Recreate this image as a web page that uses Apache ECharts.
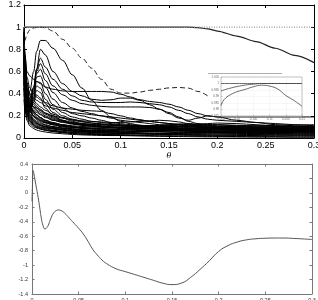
<!DOCTYPE html>
<html><head><meta charset="utf-8">
<script src="https://cdn.jsdelivr.net/npm/echarts@6/dist/echarts.min.js"></script>
<style>html,body{margin:0;padding:0;background:#fff}#c{width:318px;height:300px}</style>
</head><body><div id="c"></div>
<script>
// ---------- top panel: |lambda| vs theta ----------
const X = [0,0.001,0.003,0.006,0.01, 0.013,0.017,0.022,0.03,0.04, 0.05,0.06,0.07,0.08,0.09, 0.1,0.11,0.12,0.13,0.14, 0.15,0.16,0.17,0.18,0.19, 0.2,0.22,0.24,0.26,0.28,0.3];
const unitLine = [1,1,1,1,1, 1,1,1,1,1, 1,1,1,1,1, 1,1,1,1,1, 1,1,1,0.995,0.985, 0.965,0.92,0.87,0.81,0.745,0.68];
const dottedOne = [1,1,1,1,1, 1,1,1,1,1, 1,1,1,1,1, 1,1,1,1,1, 1,1,1,1,1, 1,1,1,1,1,1];
const dashedCurve = [0.8,0.88,0.94,0.975,0.993, 0.998,1.0,0.995,0.965,0.89, 0.81,0.72,0.63,0.53,0.44, 0.405,0.405,0.415,0.43,0.44, 0.452,0.456,0.45,0.42,0.38, null,null,null,null,null,null];
const A1 = [0.95,0.6,0.35,0.42,0.6, 0.78,0.88,0.88,0.81,0.7, 0.57,0.45,0.34,0.25,0.19, 0.15,0.13,0.115,0.105,0.1, 0.095,0.09,0.088,0.085,0.085, 0.082,0.08,0.078,0.075,0.072,0.07];
const A2 = [0.9,0.55,0.33,0.36,0.46, 0.62,0.8,0.75,0.6,0.49, 0.42,0.38,0.35,0.34,0.345, 0.36,0.36,0.34,0.3,0.26, 0.22,0.18,0.16,0.18,0.2, 0.19,0.16,0.14,0.12,0.11,0.1];
const A3 = [0.85,0.5,0.3,0.34,0.45, 0.62,0.72,0.64,0.53,0.44, 0.38,0.34,0.325,0.32,0.32, 0.32,0.325,0.32,0.31,0.3, 0.28,0.25,0.22,0.19,0.17, 0.16,0.15,0.14,0.13,0.12,0.11];
const A4 = [0.8,0.5,0.28,0.32,0.44, 0.6,0.67,0.58,0.47,0.39, 0.34,0.31,0.295,0.285,0.28, 0.28,0.28,0.28,0.275,0.26, 0.23,0.19,0.15,0.13,0.12, 0.12,0.11,0.1,0.095,0.09,0.09];
const A5 = [0.75,0.45,0.27,0.3,0.42, 0.58,0.62,0.52,0.41,0.32, 0.27,0.24,0.22,0.2,0.18, 0.16,0.15,0.14,0.13,0.12, 0.115,0.11,0.11,0.105,0.1, 0.1,0.095,0.09,0.09,0.085,0.085];
const A6 = [0.7,0.42,0.25,0.28,0.4, 0.55,0.56,0.46,0.35,0.27, 0.22,0.2,0.18,0.16,0.14, 0.13,0.12,0.115,0.11,0.105, 0.1,0.1,0.1,0.095,0.09, 0.09,0.085,0.085,0.08,0.08,0.078];
const A7 = [0.65,0.4,0.24,0.27,0.38, 0.51,0.5,0.4,0.3,0.23, 0.19,0.17,0.15,0.14,0.13, 0.12,0.11,0.105,0.1,0.095, 0.09,0.088,0.085,0.082,0.08, 0.078,0.076,0.074,0.072,0.07,0.068];
const A8 = [0.6,0.38,0.23,0.26,0.36, 0.47,0.45,0.35,0.26,0.2, 0.17,0.15,0.135,0.125,0.115, 0.11,0.105,0.1,0.097,0.094, 0.09,0.087,0.085,0.083,0.08, 0.078,0.075,0.073,0.07,0.068,0.066];
const A9 = [0.55,0.35,0.22,0.25,0.34, 0.43,0.41,0.31,0.23,0.18, 0.15,0.13,0.12,0.11,0.1, 0.095,0.09,0.088,0.086,0.084, 0.082,0.08,0.078,0.076,0.075, 0.072,0.07,0.068,0.066,0.065,0.064];
const A10 = [0.5,0.33,0.21,0.24,0.32, 0.39,0.36,0.27,0.2,0.16, 0.13,0.115,0.105,0.1,0.095, 0.09,0.086,0.083,0.08,0.078, 0.076,0.074,0.072,0.07,0.068, 0.066,0.064,0.062,0.06,0.058,0.056];
const B1 = [1.0,0.75,0.6,0.56,0.53, 0.51,0.49,0.46,0.44,0.425, 0.42,0.42,0.42,0.42,0.415, 0.395,0.37,0.345,0.33,0.32, 0.305,0.28,0.25,0.22,0.2, 0.19,0.19,0.19,0.19,0.19,0.19];
const L1 = [0.45,0.3,0.2,0.15,0.12, 0.105,0.095,0.085,0.07,0.06, 0.05,0.045,0.04,0.035,0.03, 0.03,0.028,0.025,0.022,0.02, 0.02,0.018,0.018,0.016,0.015, 0.015,0.013,0.012,0.012,0.01,0.01];
const L2 = [0.6,0.4,0.25,0.18,0.14, 0.125,0.11,0.1,0.085,0.075, 0.065,0.06,0.055,0.05,0.045, 0.042,0.04,0.038,0.035,0.033, 0.03,0.03,0.028,0.027,0.026, 0.025,0.023,0.022,0.02,0.02,0.018];
const L3 = [0.7,0.5,0.32,0.22,0.17, 0.15,0.13,0.115,0.1,0.09, 0.08,0.072,0.066,0.06,0.056, 0.052,0.05,0.047,0.045,0.043, 0.041,0.04,0.038,0.037,0.036, 0.035,0.033,0.031,0.03,0.029,0.028];
const L4 = [0.8,0.55,0.38,0.27,0.2, 0.175,0.15,0.135,0.12,0.105, 0.095,0.085,0.08,0.075,0.07, 0.065,0.062,0.06,0.058,0.056, 0.055,0.054,0.053,0.052,0.05, 0.05,0.048,0.046,0.045,0.044,0.043];
const L5 = [0.9,0.65,0.42,0.3,0.24, 0.21,0.18,0.155,0.13,0.115, 0.1,0.09,0.085,0.08,0.078, 0.075,0.073,0.07,0.068,0.066, 0.065,0.064,0.062,0.06,0.06, 0.058,0.057,0.056,0.055,0.055,0.054];
const L6 = [0.55,0.42,0.3,0.24,0.2, 0.18,0.16,0.14,0.12,0.1, 0.085,0.075,0.07,0.068,0.07, 0.075,0.08,0.083,0.085,0.083, 0.08,0.075,0.07,0.068,0.07, 0.075,0.08,0.085,0.08,0.075,0.07];
const L7 = [0.75,0.5,0.35,0.28,0.23, 0.21,0.185,0.16,0.14,0.12, 0.105,0.095,0.09,0.088,0.09, 0.095,0.1,0.1,0.095,0.09, 0.088,0.09,0.095,0.1,0.098, 0.095,0.09,0.088,0.09,0.092,0.09];
const L8 = [0.85,0.6,0.4,0.32,0.27, 0.245,0.215,0.19,0.16,0.14, 0.125,0.115,0.11,0.105,0.1, 0.098,0.095,0.093,0.09,0.092, 0.095,0.1,0.105,0.11,0.108, 0.105,0.1,0.098,0.1,0.1,0.1];
const L9 = [1.0,0.7,0.45,0.35,0.3, 0.275,0.245,0.215,0.18,0.155, 0.14,0.13,0.125,0.12,0.115, 0.11,0.108,0.105,0.1,0.098, 0.1,0.105,0.11,0.115,0.118, 0.12,0.115,0.11,0.105,0.1,0.095];
const L10 = [0.65,0.45,0.28,0.2,0.16, 0.14,0.12,0.105,0.095,0.085, 0.075,0.068,0.062,0.058,0.055, 0.052,0.055,0.06,0.065,0.068, 0.07,0.068,0.065,0.06,0.058, 0.06,0.065,0.07,0.072,0.07,0.068];
const L11 = [0.5,0.35,0.24,0.17,0.13, 0.115,0.1,0.09,0.08,0.07, 0.06,0.055,0.05,0.048,0.045, 0.043,0.042,0.04,0.04,0.04, 0.042,0.045,0.048,0.05,0.05, 0.048,0.045,0.042,0.04,0.038,0.036];
const L12 = [0.95,0.72,0.5,0.38,0.32, 0.29,0.26,0.225,0.19,0.16, 0.14,0.125,0.115,0.105,0.1, 0.095,0.09,0.088,0.085,0.082, 0.08,0.078,0.078,0.08,0.082, 0.085,0.09,0.095,0.098,0.1,0.1];
const L13 = [0.4,0.28,0.18,0.13,0.1, 0.09,0.08,0.07,0.06,0.05, 0.042,0.036,0.032,0.028,0.025, 0.022,0.02,0.018,0.016,0.015, 0.014,0.013,0.012,0.011,0.01, 0.01,0.009,0.008,0.008,0.007,0.007];
const L14 = [0.88,0.62,0.44,0.34,0.28, 0.255,0.23,0.2,0.17,0.15, 0.13,0.12,0.11,0.1,0.092, 0.085,0.08,0.075,0.07,0.068, 0.065,0.062,0.06,0.058,0.056, 0.055,0.05,0.048,0.05,0.052,0.05];
const M1 = [0.92,0.66,0.46,0.4,0.36, 0.34,0.32,0.29,0.27,0.25, 0.23,0.22,0.21,0.2,0.19, 0.18,0.17,0.16,0.15,0.14, 0.13,0.12,0.11,0.1,0.095, 0.09,0.085,0.08,0.078,0.075,0.072];
const M2 = [0.98,0.75,0.55,0.45,0.4, 0.37,0.345,0.32,0.29,0.27, 0.26,0.25,0.245,0.24,0.22, 0.2,0.18,0.165,0.15,0.14, 0.13,0.125,0.12,0.125,0.13, 0.135,0.13,0.12,0.11,0.1,0.095];
const M3 = [0.7,0.52,0.36,0.29,0.25, 0.23,0.21,0.185,0.16,0.145, 0.13,0.125,0.12,0.118,0.115, 0.112,0.11,0.11,0.112,0.115, 0.12,0.125,0.13,0.125,0.115, 0.1,0.09,0.085,0.08,0.078,0.075];
const M4 = [0.6,0.45,0.34,0.3,0.28, 0.27,0.25,0.225,0.2,0.18, 0.165,0.155,0.15,0.145,0.14, 0.14,0.145,0.15,0.155,0.16, 0.155,0.145,0.13,0.115,0.1, 0.09,0.08,0.075,0.07,0.068,0.065];
const N1 = [0.52,0.36,0.22,0.16,0.12, 0.1,0.088,0.076,0.065,0.056, 0.05,0.046,0.044,0.043,0.044, 0.046,0.05,0.054,0.056,0.055, 0.052,0.048,0.044,0.042,0.043, 0.046,0.05,0.055,0.058,0.06,0.062];
const N2 = [0.62,0.44,0.3,0.21,0.16, 0.135,0.115,0.1,0.088,0.078, 0.07,0.064,0.06,0.058,0.058, 0.06,0.064,0.068,0.072,0.075, 0.078,0.08,0.082,0.082,0.08, 0.076,0.07,0.066,0.064,0.066,0.07];
const N3 = [0.72,0.52,0.34,0.24,0.19, 0.165,0.14,0.12,0.104,0.09, 0.08,0.074,0.07,0.068,0.066, 0.064,0.062,0.06,0.058,0.06, 0.064,0.07,0.076,0.082,0.086, 0.088,0.085,0.08,0.076,0.075,0.078];
const N4 = [0.45,0.32,0.21,0.15,0.11, 0.095,0.082,0.07,0.058,0.048, 0.04,0.035,0.033,0.032,0.033, 0.035,0.038,0.04,0.04,0.038, 0.035,0.033,0.032,0.033,0.035, 0.038,0.04,0.04,0.038,0.036,0.035];
const N5 = [0.82,0.58,0.4,0.3,0.24, 0.21,0.185,0.16,0.135,0.12, 0.11,0.104,0.1,0.098,0.096, 0.094,0.09,0.085,0.08,0.076, 0.072,0.07,0.07,0.072,0.075, 0.078,0.082,0.085,0.086,0.085,0.082];
const N6 = [0.68,0.48,0.33,0.25,0.2, 0.18,0.16,0.14,0.12,0.105, 0.095,0.09,0.088,0.09,0.095, 0.1,0.105,0.108,0.11,0.112, 0.115,0.118,0.12,0.12,0.115, 0.11,0.105,0.1,0.1,0.105,0.11];
const N7 = [0.58,0.4,0.26,0.19,0.15, 0.13,0.115,0.1,0.085,0.072, 0.062,0.055,0.05,0.046,0.043, 0.04,0.038,0.037,0.036,0.036, 0.037,0.04,0.045,0.05,0.054, 0.057,0.058,0.056,0.052,0.048,0.045];
const N8 = [0.78,0.56,0.38,0.28,0.22, 0.19,0.17,0.148,0.128,0.112, 0.1,0.092,0.086,0.082,0.08, 0.08,0.082,0.086,0.09,0.095, 0.1,0.104,0.105,0.1,0.092, 0.085,0.078,0.072,0.068,0.065,0.062];
const N9 = [0.35,0.25,0.16,0.11,0.085, 0.072,0.062,0.054,0.045,0.038, 0.032,0.028,0.025,0.023,0.022, 0.022,0.023,0.025,0.027,0.028, 0.028,0.027,0.025,0.024,0.024, 0.025,0.027,0.028,0.027,0.025,0.024];
const N10 = [0.96,0.7,0.5,0.4,0.34, 0.31,0.28,0.25,0.215,0.185, 0.16,0.145,0.135,0.128,0.122, 0.118,0.115,0.112,0.11,0.108, 0.106,0.104,0.102,0.1,0.1, 0.102,0.106,0.11,0.115,0.118,0.12];
const blackCurves = [A1,A2,A3,A4,A5,A6,A7,A8,A9,A10,B1,L1,L2,L3,L4,L5,L6,L7,L8,L9,L10,L11,L12,L13,L14,M1,M2,M3,M4,N1,N2,N3,N4,N5,N6,N7,N8,N9,N10];

// ---------- inset ----------
const XI = [0,0.005,0.015,0.03,0.05,0.075,0.1,0.125,0.15,0.175,0.2,0.225,0.25];
const insetFlat = [1,1,1,1,1,1,1,1,1,1,1,1,1];
const insetUpper = [0.9942,0.9947,0.9955,0.9965,0.9977,0.9988,0.9995,1.0,1.0,1.0,1.0,1.0,1.0];
const insetLower = [0.983,0.986,0.989,0.9915,0.9937,0.9955,0.9975,0.9987,0.998,0.9958,0.9908,0.987,0.9825];

// ---------- bottom panel ----------
const XB = [0,0.0005,0.0012,0.002,0.004,0.006,0.008,0.01,0.012,0.014, 0.016,0.018,0.02,0.023,0.026,0.028,0.031,0.035,0.04,0.045, 0.05,0.055,0.06,0.065,0.07,0.075,0.08,0.09,0.1,0.11, 0.12,0.13,0.14,0.15,0.16,0.17,0.18,0.19,0.2,0.21, 0.22,0.23,0.24,0.25,0.26,0.27,0.28,0.29,0.3];
const YB = [-0.12,0.1,0.31,0.27,0.12,-0.02,-0.18,-0.35,-0.46,-0.5, -0.48,-0.43,-0.36,-0.28,-0.245,-0.237,-0.245,-0.28,-0.35,-0.42, -0.49,-0.57,-0.67,-0.78,-0.86,-0.93,-0.98,-1.05,-1.09,-1.13, -1.17,-1.21,-1.25,-1.27,-1.25,-1.17,-1.06,-0.94,-0.81,-0.73, -0.68,-0.65,-0.635,-0.628,-0.625,-0.625,-0.63,-0.637,-0.645];

const pairs = (xs, ys) => xs.map((x, i) => [x, ys[i]]);
const FONT = 'Liberation Sans';
const INSET = {left: 221, top: 77, width: 81, height: 39};

function ax(gi, pos, min, max, interval, opts) {
  return Object.assign({
    type: 'value', gridIndex: gi, position: pos, min: min, max: max, interval: interval,
    axisLine: {show: true, onZero: false, lineStyle: {color: '#000', width: 1}},
    axisTick: {show: true, inside: true, length: 3, lineStyle: {color: '#000'}},
    axisLabel: {show: false},
    splitLine: {show: false}
  }, opts || {});
}

const chart = echarts.init(document.getElementById('c'), null, {renderer: 'canvas'});
const series = [];
series.push({type: 'line', xAxisIndex: 0, yAxisIndex: 0, data: pairs(X, unitLine), symbol: 'none', smooth: 0.3, smoothMonotone: 'x', lineStyle: {color: '#222', width: 1.2}});
blackCurves.forEach(c => series.push({type: 'line', xAxisIndex: 0, yAxisIndex: 0, data: pairs(X, c), symbol: 'none', smooth: 0.35, smoothMonotone: 'x', lineStyle: {color: '#000', width: 1}}));
series.push({type: 'line', xAxisIndex: 0, yAxisIndex: 0, data: pairs(X, dashedCurve), symbol: 'none', smooth: 0.35, smoothMonotone: 'x', connectNulls: false, lineStyle: {color: '#222', width: 1, type: [5, 3]}});
series.push({type: 'line', xAxisIndex: 0, yAxisIndex: 0, data: pairs(X, dottedOne), symbol: 'none', lineStyle: {color: '#999', width: 1.2, type: [1, 1.5]}});
// inset
[insetFlat, insetUpper, insetLower].forEach(c => series.push({type: 'line', xAxisIndex: 4, yAxisIndex: 4, data: pairs(XI, c), symbol: 'none', smooth: 0.4, z: 12, lineStyle: {color: '#444', width: 0.8}}));
// bottom
series.push({type: 'line', xAxisIndex: 2, yAxisIndex: 2, data: pairs(XB, YB), symbol: 'none', smooth: 0.5, lineStyle: {color: '#555', width: 1}});

const gray = '#777';
chart.setOption({
  animation: false,
  backgroundColor: '#fff',
  grid: [
    {left: 24, top: 5, width: 290, height: 133, outerBoundsMode: 'none', containLabel: false},
    {left: 32, top: 164, width: 280, height: 130, outerBoundsMode: 'none', containLabel: false},
    {left: INSET.left, top: INSET.top, width: INSET.width, height: INSET.height, outerBoundsMode: 'none', containLabel: false}
  ],
  xAxis: [
    ax(0, 'bottom', 0, 0.3, 0.05, {axisLabel: {show: true, fontSize: 9, color: '#000', margin: 3, fontFamily: FONT},
      name: 'θ', nameLocation: 'middle', nameGap: 14, nameTextStyle: {fontSize: 8, fontStyle: 'italic', color: '#000', fontFamily: 'DejaVu Serif'}}),
    ax(0, 'top', 0, 0.3, 0.05),
    ax(1, 'bottom', 0, 0.3, 0.05, {axisLine: {show: true, onZero: false, lineStyle: {color: gray}}, axisTick: {inside: true, length: 2.5, lineStyle: {color: gray}},
      axisLabel: {show: true, fontSize: 5.5, color: '#333', margin: 3, fontFamily: FONT}}),
    ax(1, 'top', 0, 0.3, 0.05, {axisLine: {show: true, onZero: false, lineStyle: {color: gray}}, axisTick: {inside: true, length: 2.5, lineStyle: {color: gray}}}),
    ax(2, 'bottom', 0, 0.25, 0.05, {z: 11, axisLine: {show: false}, axisTick: {inside: true, length: 1.5, lineStyle: {color: '#999', width: 0.5}},
      splitLine: {show: true, lineStyle: {color: '#ddd', width: 0.5, type: 'dotted'}},
      axisLabel: {show: true, fontSize: 3, color: '#666', margin: 2, fontFamily: FONT, formatter: v => v.toFixed(Math.round(v * 100) % 10 === 0 ? 3 : 2)}})
  ],
  yAxis: [
    ax(0, 'left', 0, 1.2, 0.2, {axisLabel: {show: true, fontSize: 9, color: '#000', margin: 3, fontFamily: FONT},
      name: '|λ|', nameLocation: 'middle', nameGap: 15, nameRotate: 90, nameTextStyle: {fontSize: 8, color: '#000', fontFamily: FONT}}),
    ax(0, 'right', 0, 1.2, 0.2),
    ax(1, 'left', -1.4, 0.4, 0.2, {axisLine: {show: true, onZero: false, lineStyle: {color: gray}}, axisTick: {inside: true, length: 2.5, lineStyle: {color: gray}},
      axisLabel: {show: true, fontSize: 5.5, color: '#333', margin: 4, fontFamily: FONT}}),
    ax(1, 'right', -1.4, 0.4, 0.2, {axisLine: {show: true, onZero: false, lineStyle: {color: gray}}, axisTick: {inside: true, length: 2.5, lineStyle: {color: gray}}}),
    ax(2, 'left', 0.975, 1.005, 0.005, {z: 11, axisLine: {show: false}, axisTick: {inside: true, length: 1.5, lineStyle: {color: '#999', width: 0.5}},
      splitLine: {show: true, lineStyle: {color: '#ddd', width: 0.5, type: 'dotted'}},
      axisLabel: {show: true, fontSize: 3, color: '#666', margin: 2, fontFamily: FONT}})
  ],
  graphic: {elements: [
    {type: 'rect', z: 10, shape: {x: INSET.left, y: INSET.top, width: INSET.width, height: INSET.height}, style: {fill: '#fff', stroke: '#999', lineWidth: 0.6}},
    {type: 'line', z: 10, shape: {x1: 208, y1: 73.5, x2: 282, y2: 73.5}, style: {stroke: '#999', lineWidth: 0.8}}
  ]},
  series: series
});
</script></body></html>
